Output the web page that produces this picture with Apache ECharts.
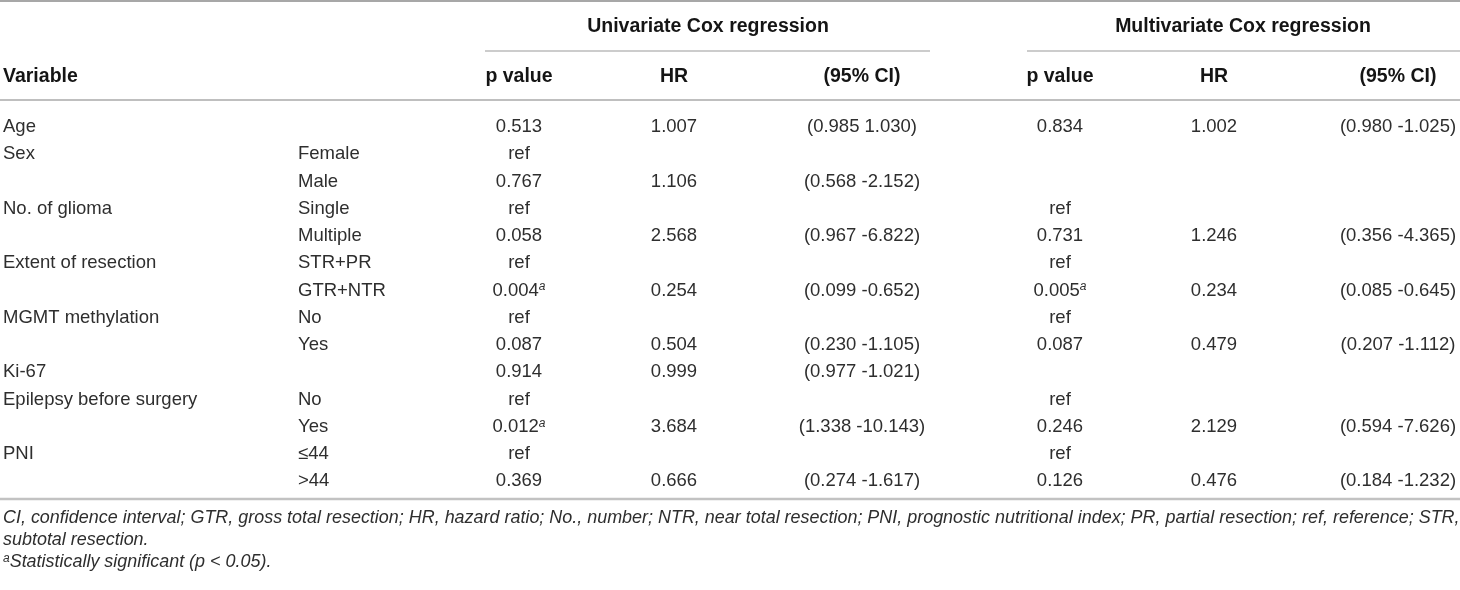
<!DOCTYPE html>
<html>
<head>
<meta charset="utf-8">
<script src="https://cdn.jsdelivr.net/npm/echarts@6/dist/echarts.min.js"></script>
<style>
  html, body { margin: 0; padding: 0; background: #fff; }
  #main { width: 1460px; height: 590px; }
</style>
</head>
<body>
<div id="main"></div>
<script>
// table data, one entry per row
var variables = ['Age', 'Sex', '', 'No. of glioma', '', 'Extent of resection', '', 'MGMT methylation', '', 'Ki-67', 'Epilepsy before surgery', '', 'PNI', ''];
var levels = ['', 'Female', 'Male', 'Single', 'Multiple', 'STR+PR', 'GTR+NTR', 'No', 'Yes', '', 'No', 'Yes', '≤44', '>44'];
var uniP = ['0.513', 'ref', '0.767', 'ref', '0.058', 'ref', '0.004', 'ref', '0.087', '0.914', 'ref', '0.012', 'ref', '0.369'];
var uniSig = [0, 0, 0, 0, 0, 0, 1, 0, 0, 0, 0, 1, 0, 0];
var uniHR = ['1.007', '', '1.106', '', '2.568', '', '0.254', '', '0.504', '0.999', '', '3.684', '', '0.666'];
var uniCI = ['(0.985 1.030)', '', '(0.568 -2.152)', '', '(0.967 -6.822)', '', '(0.099 -0.652)', '', '(0.230 -1.105)', '(0.977 -1.021)', '', '(1.338 -10.143)', '', '(0.274 -1.617)'];
var multiP = ['0.834', '', '', 'ref', '0.731', 'ref', '0.005', 'ref', '0.087', '', 'ref', '0.246', 'ref', '0.126'];
var multiSig = [0, 0, 0, 0, 0, 0, 1, 0, 0, 0, 0, 0, 0, 0];
var multiHR = ['1.002', '', '', '', '1.246', '', '0.234', '', '0.479', '', '', '2.129', '', '0.476'];
var multiCI = ['(0.980 -1.025)', '', '', '', '(0.356 -4.365)', '', '(0.085 -0.645)', '', '(0.207 -1.112)', '', '', '(0.594 -7.626)', '', '(0.184 -1.232)'];

var groupHeads = ['Univariate Cox regression', 'Multivariate Cox regression'];
var colHeads = ['Variable', '', 'p value', 'HR', '(95% CI)', 'p value', 'HR', '(95% CI)'];
var footnotes = [
  'CI, confidence interval; GTR, gross total resection; HR, hazard ratio; No., number; NTR, near total resection; PNI, prognostic nutritional index; PR, partial resection; ref, reference; STR,',
  'subtotal resection.',
  '{sup|a}Statistically significant (p < 0.05).'
];

// layout
var colX = [3, 298, 519, 674, 862, 1060, 1214, 1398];
var colAlign = ['left', 'left', 'center', 'center', 'center', 'center', 'center', 'center'];
var ROW0 = 127, ROWH = 27.25;
var FONT = 'Liberation Sans, Arial, sans-serif';
var INK = '#2e2e2e';

var columns = [variables, levels, uniP, uniHR, uniCI, multiP, multiHR, multiCI];
var sigs = { 2: uniSig, 5: multiSig };

var cells = [];
var seriesData = [];
for (var r = 0; r < variables.length; r++) {
  for (var c = 0; c < columns.length; c++) {
    var t = columns[c][r];
    if (!t) continue;
    var sig = sigs[c] ? sigs[c][r] : 0;
    cells.push({ text: sig ? t + '{sup|a}' : t, align: colAlign[c] });
    seriesData.push([colX[c], r, cells.length - 1]);
  }
}

var supStyle = { fontSize: 12, fontStyle: 'italic', fontFamily: FONT, fill: INK, verticalAlign: 'top', lineHeight: 12 };

var graphics = [];
function hline(x1, x2, y, w, color) {
  graphics.push({ type: 'line', silent: true, shape: { x1: x1, y1: y, x2: x2, y2: y }, style: { stroke: color, lineWidth: w } });
}
hline(0, 1460, 1, 1.5, '#8a8a8a');
hline(485, 930, 51, 1.2, '#9a9a9a');
hline(1027, 1460, 51, 1.2, '#9a9a9a');
hline(0, 1460, 100, 1.5, '#aaaaaa');
hline(0, 1460, 499, 2.5, '#c2c2c2');

graphics.push({ type: 'text', silent: true, x: 708, y: 27, style: { text: groupHeads[0], fontFamily: FONT, fontSize: 19.5, fontWeight: 'bold', fill: '#151515', align: 'center', verticalAlign: 'middle' } });
graphics.push({ type: 'text', silent: true, x: 1243, y: 27, style: { text: groupHeads[1], fontFamily: FONT, fontSize: 19.5, fontWeight: 'bold', fill: '#151515', align: 'center', verticalAlign: 'middle' } });
for (var h = 0; h < colHeads.length; h++) {
  if (!colHeads[h]) continue;
  graphics.push({ type: 'text', silent: true, x: colX[h], y: 77, style: { text: colHeads[h], fontFamily: FONT, fontSize: 19.5, fontWeight: 'bold', fill: '#151515', align: colAlign[h], verticalAlign: 'middle' } });
}
var noteY = [518, 540, 562];
for (var f = 0; f < footnotes.length; f++) {
  graphics.push({ type: 'text', silent: true, x: 3, y: noteY[f], style: {
    text: footnotes[f], fontFamily: FONT, fontSize: 17.95, fontStyle: 'italic', fill: INK, align: 'left', verticalAlign: 'middle',
    rich: { sup: { fontSize: 12, fontStyle: 'italic', fontFamily: FONT, fill: INK, verticalAlign: 'top', lineHeight: 12 } }
  } });
}

var chart = echarts.init(document.getElementById('main'));
chart.setOption({
  animation: false,
  grid: { left: 0, right: 0, top: 0, bottom: 0 },
  xAxis: { type: 'value', min: 0, max: 1460, show: false },
  yAxis: { type: 'value', min: -ROW0 / ROWH, max: (590 - ROW0) / ROWH, inverse: true, show: false },
  graphic: graphics,
  series: [{
    type: 'custom',
    coordinateSystem: 'cartesian2d',
    silent: true,
    clip: false,
    encode: { x: 0, y: 1 },
    data: seriesData,
    renderItem: function (params, api) {
      var cell = cells[api.value(2)];
      var pt = api.coord([api.value(0), api.value(1)]);
      return {
        type: 'text',
        x: pt[0],
        y: pt[1],
        style: {
          text: cell.text,
          fontFamily: FONT,
          fontSize: 18.5,
          fill: INK,
          align: cell.align,
          verticalAlign: 'middle',
          rich: { sup: supStyle }
        }
      };
    }
  }]
});
</script>
</body>
</html>
